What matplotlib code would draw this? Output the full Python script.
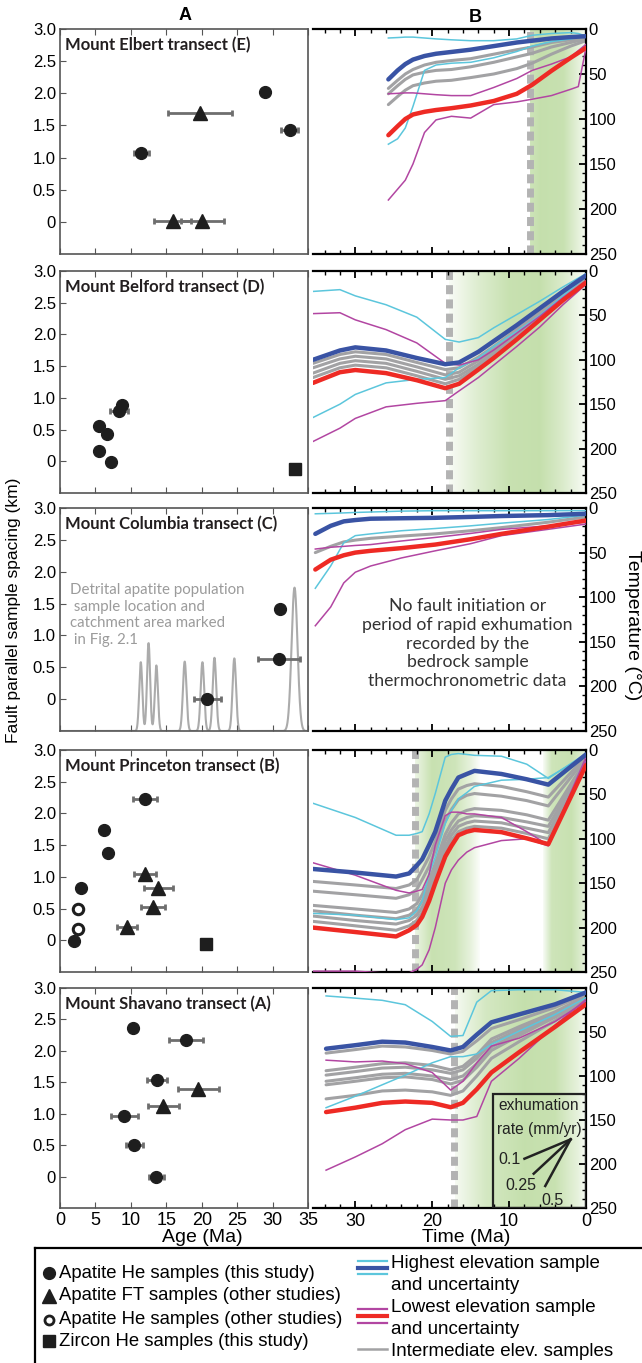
import numpy as np
import matplotlib
matplotlib.use('Agg')
import matplotlib.pyplot as plt
from matplotlib.patches import Rectangle
from matplotlib.ticker import MultipleLocator

plt.rcParams['font.family'] = ['Liberation Sans', 'DejaVu Sans']

# ---------------- column A: sample ages (Ma) vs fault parallel spacing (km) ----------------
elbert_ahe_age = [11.5, 28.9, 32.4]
elbert_ahe_km = [1.07, 2.02, 1.43]
elbert_ahe_err = [1.0, 0.0, 1.2]
elbert_aft_age = [19.8, 15.9, 20.1]
elbert_aft_km = [1.70, 0.01, 0.01]
elbert_aft_err = [4.5, 2.6, 3.0]

belford_ahe_age = [5.5, 6.6, 5.5, 7.2, 8.3, 8.8]
belford_ahe_km = [0.55, 0.43, 0.17, -0.01, 0.79, 0.88]
belford_ahe_err = [0, 0, 0, 0, 1.3, 0]
belford_zhe_age = [33.2]
belford_zhe_km = [-0.12]

columbia_ahe_age = [20.8, 31.0, 30.9]
columbia_ahe_km = [0.0, 1.41, 0.63]
columbia_ahe_err = [1.9, 0.5, 3.0]
# detrital apatite age peaks: age, peak top (km axis), width
detrital_age = [11.4, 12.5, 13.6, 17.6, 20.1, 21.8, 24.6, 33.1]
detrital_top = [0.58, 0.88, 0.53, 0.59, 0.58, 0.65, 0.64, 1.75]
detrital_sigma = [0.22, 0.22, 0.22, 0.25, 0.25, 0.25, 0.25, 0.42]

princeton_ahe_age = [2.0, 2.9, 6.2, 6.8, 12.0]
princeton_ahe_km = [-0.01, 0.83, 1.74, 1.38, 2.23]
princeton_ahe_err = [0, 0, 0, 0, 1.7]
princeton_ahe_other_age = [2.6, 2.6]
princeton_ahe_other_km = [0.50, 0.18]
princeton_aft_age = [12.0, 13.9, 13.1, 9.4]
princeton_aft_km = [1.04, 0.82, 0.52, 0.21]
princeton_aft_err = [1.5, 2.0, 1.7, 1.4]
princeton_zhe_age = [20.6]
princeton_zhe_km = [-0.06]

shavano_ahe_age = [10.3, 17.8, 13.7, 9.1, 10.5, 13.6]
shavano_ahe_km = [2.37, 2.17, 1.53, 0.97, 0.50, 0.0]
shavano_ahe_err = [0, 2.4, 1.4, 1.9, 1.2, 1.1]
shavano_aft_age = [19.5, 14.6]
shavano_aft_km = [1.39, 1.12]
shavano_aft_err = [2.9, 2.2]

# ---------------- column B: time-temperature paths (Ma, deg C) ----------------
elbert_time = [25.7, 24.5, 23.5, 22.5, 21, 19.5, 17.5, 15, 12, 9, 7, 4.5, 2, 1, 0]
elbert_high = [56, 46, 39, 34, 30, 27.5, 25.5, 23, 19, 15, 13, 10.5, 9, 8.5, 8]
elbert_low = [118, 108, 100, 95, 92, 90, 88, 85, 80, 72, 62, 46.5, 32, 26.5, 21]
elbert_inter = [
    [66, 57, 50, 45, 40, 37, 35, 33, 28, 23, 20, 15, 12, 11, 10],
    [72, 63, 56, 51, 48, 46, 45, 42, 37, 31, 27, 20, 15, 13, 11],
    [84, 75, 68, 63, 60, 58, 57, 54, 50, 44, 38, 28, 19, 16, 13],
]
elbert_high_unc = [
    [10, 9.5, 9, 9, 10, 11, 12, 13, 13, 11, 7, 5, 4, 5, 8],
    [128, 122, 110, 86, 46, 40, 38, 37, 32, 25, 19, 14, 11, 9.5, 8],
]
elbert_low_unc = [
    [72, 71.5, 71, 71, 72, 73, 74, 74, 65, 55, 46, 39, 31, 24, 17],
    [190, 178, 168, 150, 115, 101, 97, 99, 84, 81, 78, 74, 67, 64, 21],
]

belford_time = [35.5, 32, 30, 26, 22, 18.3, 16.5, 14, 12, 9, 6, 3, 0]
belford_high = [100, 89.5, 86, 89.5, 98, 105, 103, 91, 79, 61, 42, 23, 5]
belford_low = [126, 114, 111.5, 115, 123, 132, 127, 111, 98, 77, 55, 33, 13]
belford_inter = [
    [104, 94, 91, 94, 103, 111, 109, 97, 85, 66, 47, 27, 7],
    [109, 99, 96, 99, 108, 117, 114, 101, 88, 69, 49, 29, 8],
    [115, 104, 101, 104, 113, 122, 118, 105, 91, 72, 51, 30, 10],
    [120, 109, 106, 109, 118, 127, 122, 108, 94, 74, 53, 31, 11],
]
belford_high_unc = [
    [23, 21, 28, 38, 52, 77, 80, 75, 64, 49, 34, 18, 3],
    [165, 150, 139, 126, 122, 120, 109, 98, 85, 68, 50, 28, 6],
]
belford_low_unc = [
    [48, 47, 55, 66, 81, 104, 106, 100, 89, 70, 51, 30, 11],
    [192, 177, 166, 153, 149, 146, 135, 120, 106, 85, 63, 38, 15],
]

columbia_time = [35.2, 33.2, 31.5, 30, 28, 24, 19.6, 15, 11, 5, 0]
columbia_high = [29, 20, 15, 13.5, 12, 11.5, 11, 10, 9, 8, 6.5]
columbia_low = [69, 58, 53, 50, 48, 45, 41, 35, 29, 21, 14]
columbia_inter = [[50, 43, 38, 36, 34, 31.5, 29, 25.5, 22, 16, 10]]
columbia_high_unc = [
    [6.5, 6, 5.5, 5, 4.5, 3.5, 3, 3, 3, 3, 3],
    [90, 65, 39, 31, 29, 25.5, 23, 20, 17, 13, 8],
]
columbia_low_unc = [
    [46, 44, 43, 42, 41, 37, 33, 28.5, 24, 20, 16],
    [132, 111, 84, 72, 65, 56, 48, 40, 31, 24, 18],
]

princeton_time = [35.5, 30, 24.7, 23, 22, 21.3, 20.4, 19.6, 18.3, 17.5, 16.6, 15.5, 14.5,
                  11, 7.7, 4.9, 0]
princeton_high = [134, 138, 142.5, 139, 130, 123, 107, 92, 57, 44, 31, 27, 23.5, 27, 33, 39, 5]
princeton_low = [200, 205, 210, 203, 197, 188, 170, 150, 120, 108, 96, 92, 90, 92.5, 99.5, 106, 17]
princeton_inter = [
    [148, 152, 156, 152, 146, 135, 120, 103, 68, 55, 44, 40, 38, 41, 47, 53, 7],
    [159, 163, 167, 163, 157, 146, 131, 113, 80, 67, 56, 51, 49, 52, 57, 63, 9],
    [175, 179, 183, 179, 173, 163, 147, 128, 95, 82, 72, 68, 66, 68, 73, 79, 11],
    [181, 186, 190, 186, 180, 170, 154, 135, 102, 90, 80, 76, 74, 76, 81, 86, 12],
    [187, 192, 196, 192, 186, 177, 160, 141, 109, 96, 86, 82, 80, 82, 88, 93, 13],
    [193, 198, 203, 198, 192, 183, 166, 146, 114, 102, 92, 88, 86, 88, 94, 100, 15],
]
princeton_high_unc = [
    [60, 76, 96, 96, 94, 92, 72, 49, 8, 5, 4, 5, 6, 7, 16, 32, 4],
    [184, 186, 191, 189, 181, 170, 139, 121, 83, 68, 55, 48, 41, 34, 33, 31, 6],
]
princeton_low_unc = [
    [127, 141, 158, 161, 159, 157, 140, 107, 74, 70, 70, 72, 72, 76, 92, 107, 8],
    [249, 249, 252, 251, 247, 242, 225, 200, 150, 135, 124, 115, 110, 102, 100, 108, 12],
]

shavano_time = [33.8, 30, 26.5, 23.5, 20, 17.6, 16, 14.2, 12.3, 8.7, 4, 0]
shavano_high = [69, 65, 61, 62, 67, 71, 67, 53, 39, 30, 18.5, 5]
shavano_low = [141, 136, 130.5, 129, 130.5, 135.5, 130.5, 115, 96, 73, 44, 18.5]
shavano_inter = [
    [74, 70, 66, 67, 71, 75, 72, 60, 46, 36, 22, 7],
    [94, 90, 86, 85, 88, 93, 89, 76, 58, 44, 27, 9],
    [99, 95, 91, 90, 93, 97, 93, 80, 62, 47, 29, 10],
    [106, 102, 98, 97, 100, 104, 100, 86, 67, 51, 31, 11],
    [110, 106, 102, 101, 104, 109, 105, 90, 71, 54, 33, 12],
    [126, 122, 117, 116, 118, 122, 117, 100, 80, 61, 37, 14],
]
shavano_high_unc = [
    [9, 11.5, 14, 19, 38, 55, 54, 16, 3, 2, 2, 5],
    [136, 123, 110, 99, 85, 78, 78, 75, 64, 49, 30, 11],
]
shavano_low_unc = [
    [82, 84, 83, 86, 96, 116, 106, 85, 66, 57, 38, 15],
    [207, 192, 177, 161, 149, 150, 150, 146, 106, 80, 42, 13],
]

# fault initiation (dashed line) and rapid exhumation shading: time, strength
elbert_fault = 7.3
elbert_bands = [([7.3, 6, 3, 1, 0], [0.8, 0.95, 0.9, 0.4, 0.1])]
belford_fault = 17.8
belford_bands = [([17.8, 14, 10, 6, 3, 0], [0.1, 0.55, 0.9, 0.95, 0.6, 0.1])]
princeton_fault = 22.3
princeton_bands = [([22.2, 20, 17, 15, 13.8], [0.3, 0.9, 0.8, 0.4, 0.05]),
                   ([5.6, 4.5, 2, 0.5, 0], [0.1, 0.8, 0.9, 0.5, 0.2])]
shavano_fault = 17.2
shavano_bands = [([17.0, 13, 8, 4, 1, 0], [0.15, 0.7, 0.95, 0.9, 0.4, 0.1])]

# exhumation rate key (Shavano panel)
rate_labels = ['0.1', '0.25', '0.5']

BLUE = '#3953a4'
RED = '#ee2a24'
GRAY = '#a2a2a4'
CYAN = '#5cc6dc'
MAG = '#b246a2'
GREEN = (0.76, 0.87, 0.66)
DARK = '#1e1e1e'
EBAR = '#6e6e6e'

W, H = 642, 1363
fig = plt.figure(figsize=(W / 100, H / 100), dpi=100)


def box(x0, y0, x1, y1):
    return [x0 / W, 1 - y1 / H, (x1 - x0) / W, (y1 - y0) / H]


row_top = [29, 271, 508, 750, 988]
row_bot = [254, 493, 731, 972, 1208]
titles = ['Mount Elbert transect (E)', 'Mount Belford transect (D)',
          'Mount Columbia transect (C)', 'Mount Princeton transect (B)',
          'Mount Shavano transect (A)']


def style_left(ax, last):
    ax.set_xlim(0, 35)
    ax.set_ylim(-0.5, 3.0)
    ax.set_xticks(np.arange(0, 36, 5))
    ax.set_yticks([0, 0.5, 1.0, 1.5, 2.0, 2.5, 3.0])
    ax.set_yticklabels(['0', '0.5', '1.0', '1.5', '2.0', '2.5', '3.0'])
    for s in ax.spines.values():
        s.set_color('#555555')
        s.set_linewidth(1.2)
    ax.tick_params(direction='in', top=True, length=4, color='#555555',
                   labelsize=12, pad=3, labelbottom=last)
    ax.tick_params(axis='x', labelsize=13)


def style_right(ax, last):
    ax.set_xlim(35.5, 0)
    ax.set_ylim(250, 0)
    ax.spines['left'].set_visible(False)
    for k in ['top', 'right', 'bottom']:
        ax.spines[k].set_linewidth(1.6)
    ax.set_xticks([30, 20, 10, 0])
    ax.xaxis.set_minor_locator(MultipleLocator(2))
    ax.set_yticks(np.arange(0, 251, 50))
    ax.yaxis.set_minor_locator(MultipleLocator(10))
    ax.yaxis.tick_right()
    ax.tick_params(axis='x', which='both', direction='in', top=True, bottom=True,
                   labelsize=13, labelbottom=last)
    ax.tick_params(axis='y', which='both', direction='in', left=False, right=True,
                   labelright=True, labelsize=12, pad=2)
    ax.tick_params(which='major', length=5, width=1.3)
    ax.tick_params(which='minor', length=3, width=1.0)


def scatter_panel(ax, ahe=None, aft=None, ahe_other=None, zhe=None):
    if ahe is not None:
        ax.errorbar(ahe[0], ahe[1], xerr=ahe[2], fmt='none', ecolor=EBAR,
                    elinewidth=2, capsize=2, capthick=2, zorder=2)
        ax.plot(ahe[0], ahe[1], 'o', color=DARK, ms=8.5, zorder=3)
    if aft is not None:
        ax.errorbar(aft[0], aft[1], xerr=aft[2], fmt='none', ecolor=EBAR,
                    elinewidth=2, capsize=2, capthick=2, zorder=2)
        ax.plot(aft[0], aft[1], '^', color=DARK, ms=10, zorder=3)
    if ahe_other is not None:
        ax.plot(ahe_other[0], ahe_other[1], 'o', mfc='white', mec=DARK,
                mew=2.2, ms=7.5, zorder=3)
    if zhe is not None:
        ax.plot(zhe[0], zhe[1], 's', color=DARK, ms=8.5, zorder=3)


def shade(ax, bands, fault):
    for times, strength in bands:
        t0, t1 = max(times), min(times)
        xs = np.linspace(t0, t1, 300)
        a = np.interp(xs, times[::-1], strength[::-1])
        img = np.ones((1, len(xs), 4))
        img[0, :, 0] = 1 - a * (1 - GREEN[0])
        img[0, :, 1] = 1 - a * (1 - GREEN[1])
        img[0, :, 2] = 1 - a * (1 - GREEN[2])
        ax.imshow(img, extent=[t0, t1, 250, 0], aspect='auto', zorder=0,
                  interpolation='bilinear')
    if fault is not None:
        ax.axvline(fault, color='#b3b3b3', lw=5, dashes=(1.3, 0.75), zorder=1)


def tt_panel(ax, t, high, low, inter, high_unc, low_unc):
    for g in inter:
        ax.plot(t, g, color=GRAY, lw=2.2, zorder=2, solid_capstyle='round',
                solid_joinstyle='round')
    for c in high_unc:
        ax.plot(t, c, color=CYAN, lw=1.1, zorder=3)
    for m in low_unc:
        ax.plot(t, m, color=MAG, lw=1.1, zorder=3)
    ax.plot(t, high, color=BLUE, lw=3.2, zorder=4, solid_capstyle='round',
            solid_joinstyle='round')
    ax.plot(t, low, color=RED, lw=3.2, zorder=4, solid_capstyle='round',
            solid_joinstyle='round')


left_axes = []
right_axes = []
for i in range(5):
    la = fig.add_axes(box(60, row_top[i], 308, row_bot[i]))
    ra = fig.add_axes(box(313, row_top[i], 586, row_bot[i]))
    left_axes.append(la)
    right_axes.append(ra)
    la.text(0.02, 1 - 16 / (row_bot[i] - row_top[i]), titles[i], transform=la.transAxes,
            ha='left', va='center', fontsize=12, fontweight='bold', family='Lato',
            color='#231f20')

# column A panels
scatter_panel(left_axes[0], ahe=(elbert_ahe_age, elbert_ahe_km, elbert_ahe_err),
              aft=(elbert_aft_age, elbert_aft_km, elbert_aft_err))
scatter_panel(left_axes[1], ahe=(belford_ahe_age, belford_ahe_km, belford_ahe_err),
              zhe=(belford_zhe_age, belford_zhe_km))
xs = np.linspace(0, 35, 1400)
pdf = np.full_like(xs, -0.5)
for a, top, s in zip(detrital_age, detrital_top, detrital_sigma):
    pdf += (top + 0.5) * np.exp(-0.5 * ((xs - a) / s) ** 2)
left_axes[2].plot(xs, pdf, color='#ababab', lw=1.5, zorder=1)
left_axes[2].text(1.4, 1.32, 'Detrital apatite population\n sample location and\n'
                  'catchment area marked\n in Fig. 2.1', ha='left', va='center',
                  fontsize=10.8, family='Lato', color='#9b9b9b', linespacing=1.25)
scatter_panel(left_axes[2], ahe=(columbia_ahe_age, columbia_ahe_km, columbia_ahe_err))
scatter_panel(left_axes[3], ahe=(princeton_ahe_age, princeton_ahe_km, princeton_ahe_err),
              aft=(princeton_aft_age, princeton_aft_km, princeton_aft_err),
              ahe_other=(princeton_ahe_other_age, princeton_ahe_other_km),
              zhe=(princeton_zhe_age, princeton_zhe_km))
scatter_panel(left_axes[4], ahe=(shavano_ahe_age, shavano_ahe_km, shavano_ahe_err),
              aft=(shavano_aft_age, shavano_aft_km, shavano_aft_err))

# column B panels
shade(right_axes[0], elbert_bands, elbert_fault)
tt_panel(right_axes[0], elbert_time, elbert_high, elbert_low, elbert_inter,
         elbert_high_unc, elbert_low_unc)
shade(right_axes[1], belford_bands, belford_fault)
tt_panel(right_axes[1], belford_time, belford_high, belford_low, belford_inter,
         belford_high_unc, belford_low_unc)
tt_panel(right_axes[2], columbia_time, columbia_high, columbia_low, columbia_inter,
         columbia_high_unc, columbia_low_unc)
right_axes[2].text(15.4, 152, 'No fault initiation or\nperiod of rapid exhumation\n'
                   'recorded by the\nbedrock sample\nthermochronometric data',
                   ha='center', va='center', fontsize=12.7, family='Lato',
                   color='#333333', linespacing=1.2)
shade(right_axes[3], princeton_bands, princeton_fault)
tt_panel(right_axes[3], princeton_time, princeton_high, princeton_low, princeton_inter,
         princeton_high_unc, princeton_low_unc)
shade(right_axes[4], shavano_bands, shavano_fault)
tt_panel(right_axes[4], shavano_time, shavano_high, shavano_low, shavano_inter,
         shavano_high_unc, shavano_low_unc)

# exhumation rate key
rax = right_axes[4]
rax.add_patch(Rectangle((0.05, 121), 12.1, 128.5, fill=False, ec='#222222', lw=1.6, zorder=5))
rax.text(6.1, 134, 'exhumation', ha='center', va='center', fontsize=11.2, color='#222222', zorder=6)
rax.text(6.1, 161, 'rate (mm/yr)', ha='center', va='center', fontsize=11.2, color='#222222', zorder=6)
for (x1, y1), (lx, ly), lab in zip([(8.0, 194), (6.8, 211), (5.3, 225)],
                                    [(9.9, 195), (8.5, 225), (4.4, 242)], rate_labels):
    rax.plot([2.0, x1], [172, y1], color='#222222', lw=1.8, zorder=6)
    rax.text(lx, ly, lab, ha='center', va='center', fontsize=11.5, color='#222222', zorder=6)

for i in range(5):
    style_left(left_axes[i], i == 4)
    style_right(right_axes[i], i == 4)

# column letters and axis labels
fig.text(185 / W, 1 - 16 / H, 'A', ha='center', va='center', fontsize=13, fontweight='bold')
fig.text(475 / W, 1 - 18 / H, 'B', ha='center', va='center', fontsize=13, fontweight='bold')
fig.text(14 / W, 1 - 610 / H, 'Fault parallel sample spacing (km)', rotation=90,
         ha='center', va='center', fontsize=12.5)
fig.text(632 / W, 1 - 625 / H, 'Temperature (°C)', rotation=270,
         ha='center', va='center', fontsize=14)
fig.text(202 / W, 1 - 1238 / H, 'Age (Ma)', ha='center', va='center', fontsize=14)
fig.text(466 / W, 1 - 1238 / H, 'Time (Ma)', ha='center', va='center', fontsize=14)

# legend box
lax = fig.add_axes(box(35, 1248, 641, 1363))
lax.set_xlim(35, 641)
lax.set_ylim(1363, 1248)
lax.set_xticks([])
lax.set_yticks([])
lax.spines['right'].set_visible(False)
lax.spines['bottom'].set_visible(False)
lax.spines['left'].set_linewidth(1.6)
lax.spines['top'].set_linewidth(1.6)
lax.patch.set_alpha(0)
lax.plot([49], [1273], 'o', color=DARK, ms=8.5)
lax.plot([49], [1296], '^', color=DARK, ms=9.5)
lax.plot([49], [1320], 'o', mfc='white', mec=DARK, mew=2, ms=6.5)
lax.plot([49], [1341], 's', color=DARK, ms=8.5)
for y, s in zip([1273, 1296, 1320, 1341],
                ['Apatite He samples (this study)', 'Apatite FT samples (other studies)',
                 'Apatite He samples (other studies)', 'Zircon He samples (this study)']):
    lax.text(59, y, s, ha='left', va='center', fontsize=13.3)
lax.plot([358, 387], [1261, 1261], color=CYAN, lw=1.6)
lax.plot([358, 387], [1267.5, 1267.5], color=BLUE, lw=3)
lax.plot([358, 387], [1274, 1274], color=CYAN, lw=1.6)
lax.plot([358, 387], [1309, 1309], color=MAG, lw=1.6)
lax.plot([358, 387], [1316, 1316], color=RED, lw=3)
lax.plot([358, 387], [1323, 1323], color=MAG, lw=1.6)
lax.plot([358, 387], [1349, 1349], color=GRAY, lw=1.8)
for y, s in zip([1263, 1285, 1307, 1329, 1352],
                ['Highest elevation sample', 'and uncertainty', 'Lowest elevation sample',
                 'and uncertainty', 'Intermediate elev. samples']):
    lax.text(391, y, s, ha='left', va='center', fontsize=13.5)

fig.savefig('out.png', dpi=100)
